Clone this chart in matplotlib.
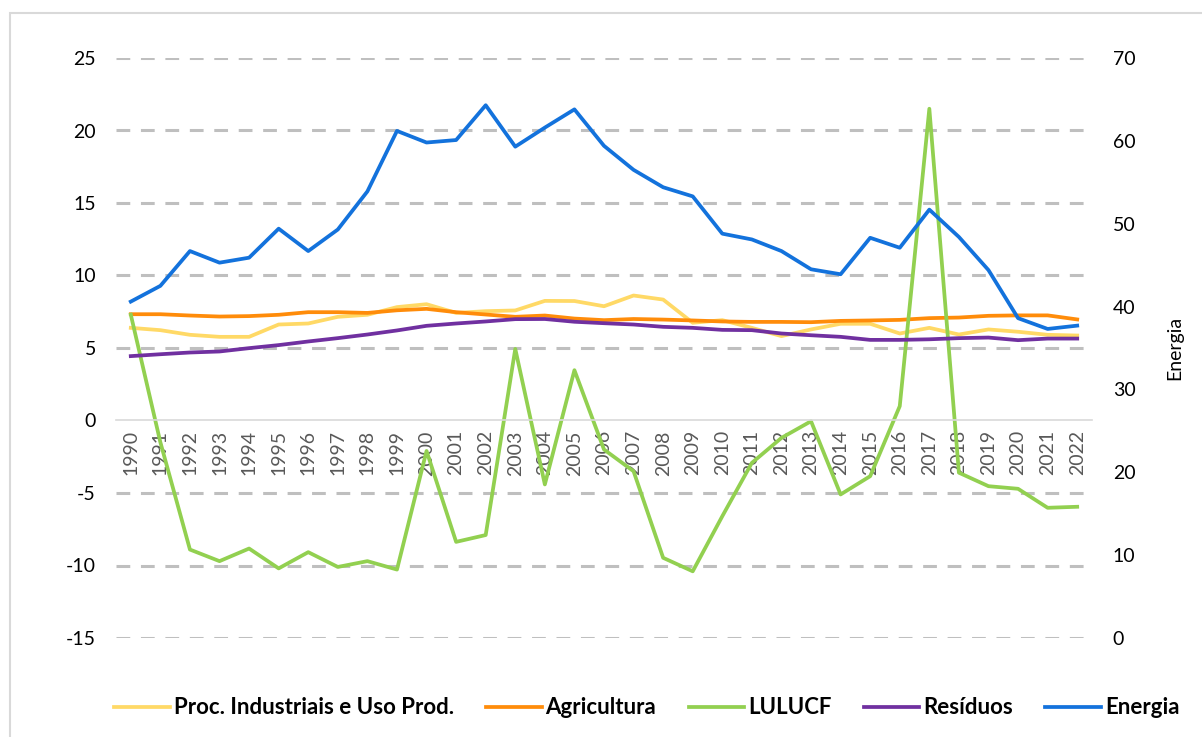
import matplotlib.pyplot as plt
from matplotlib.patches import Rectangle

years = list(range(1990, 2023))

proc_industriais = [6.39, 6.23, 5.91, 5.77, 5.77, 6.62, 6.69, 7.15, 7.29, 7.82,
                    8.02, 7.42, 7.54, 7.59, 8.25, 8.24, 7.88, 8.62, 8.34, 6.74,
                    6.92, 6.39, 5.82, 6.28, 6.67, 6.67, 6.00, 6.39, 5.93, 6.28,
                    6.12, 5.91, 5.86]
agricultura = [7.33, 7.33, 7.24, 7.17, 7.20, 7.29, 7.47, 7.47, 7.42, 7.60,
               7.70, 7.47, 7.31, 7.15, 7.24, 7.03, 6.92, 7.00, 6.96, 6.90,
               6.83, 6.80, 6.80, 6.78, 6.87, 6.90, 6.94, 7.06, 7.10, 7.22,
               7.25, 7.25, 6.97]
lulucf = [7.30, -1.50, -8.90, -9.70, -8.83, -10.20, -9.08, -10.10, -9.70, -10.28,
          -2.10, -8.37, -7.90, 4.94, -4.41, 3.47, -2.00, -3.50, -9.47, -10.40,
          -6.60, -2.92, -1.20, -0.05, -5.10, -3.84, 0.99, 21.50, -3.60, -4.53,
          -4.71, -6.02, -5.95]
residuos = [4.44, 4.57, 4.69, 4.76, 4.99, 5.20, 5.45, 5.68, 5.93, 6.21,
            6.53, 6.69, 6.83, 6.99, 7.00, 6.81, 6.71, 6.62, 6.46, 6.39,
            6.25, 6.23, 6.00, 5.88, 5.77, 5.56, 5.56, 5.60, 5.68, 5.72,
            5.54, 5.65, 5.65]
energia = [40.6, 42.5, 46.7, 45.3, 45.9, 49.4, 46.7, 49.3, 53.9, 61.2,
           59.8, 60.1, 64.3, 59.3, 61.6, 63.8, 59.4, 56.5, 54.4, 53.3,
           48.8, 48.1, 46.7, 44.5, 43.9, 48.3, 47.1, 51.7, 48.4, 44.4,
           38.6, 37.3, 37.7]

plt.rcParams["font.family"] = ["Lato", "DejaVu Sans"]
plt.rcParams["axes.unicode_minus"] = False

fig = plt.figure(figsize=(12.02, 7.37), dpi=100)
ax = fig.add_axes([116 / 1202, 1 - 638 / 737, (1092 - 116) / 1202, (638 - 58) / 737])
ax2 = ax.twinx()

x = list(range(len(years)))
lw = 2.7
l1, = ax.plot(x, proc_industriais, color="#FFD966", lw=lw, label="Proc. Industriais e Uso Prod.")
l2, = ax.plot(x, agricultura, color="#FF8C0A", lw=lw, label="Agricultura")
l3, = ax.plot(x, lulucf, color="#92D050", lw=lw, label="LULUCF")
l4, = ax.plot(x, residuos, color="#7030A0", lw=lw, label="Resíduos")
l5, = ax2.plot(x, energia, color="#1372DC", lw=lw, label="Energia")

ax.set_xlim(-0.5, len(years) - 0.5)
ax.set_ylim(-15, 25)
ax2.set_ylim(0, 70)
ax.set_yticks(range(-15, 30, 5))
ax2.set_yticks(range(0, 80, 10))

for v in range(-15, 30, 5):
    if v != 0:
        ax.axhline(v, color="#BFBFBF", lw=2.2, ls=(0, (4.5, 3.5)), zorder=0)

for s in ["top", "right", "left"]:
    ax.spines[s].set_visible(False)
for s in ax2.spines.values():
    s.set_visible(False)
ax.spines["bottom"].set_position(("data", 0))
ax.spines["bottom"].set_color("#D9D9D9")
ax.spines["bottom"].set_linewidth(1.2)

ax.set_xticks(x)
ax.set_xticklabels([str(y) for y in years], rotation=90, color="#595959", fontsize=14)
ax.tick_params(axis="x", length=0, pad=7)
ax.tick_params(axis="y", length=0, pad=14.5, labelsize=14, labelcolor="#000000")
ax2.tick_params(axis="y", length=0, pad=15, labelsize=14, labelcolor="#000000")
ax2.set_ylabel("Energia", fontsize=14, labelpad=22)

fig.legend(handles=[l1, l2, l3, l4, l5], loc="center", bbox_to_anchor=(0.538, 1 - 708 / 737),
           ncol=5, frameon=False, prop={"weight": "bold", "size": 16},
           handlelength=2.5, handletextpad=0.18, columnspacing=1.45)

fig.patches.append(Rectangle((10 / 1202, -0.05), 1.1, 1 - 13 / 737 + 0.05, transform=fig.transFigure,
                             fill=False, edgecolor="#D9D9D9", lw=1.5))

fig.savefig("out.png", dpi=100)
